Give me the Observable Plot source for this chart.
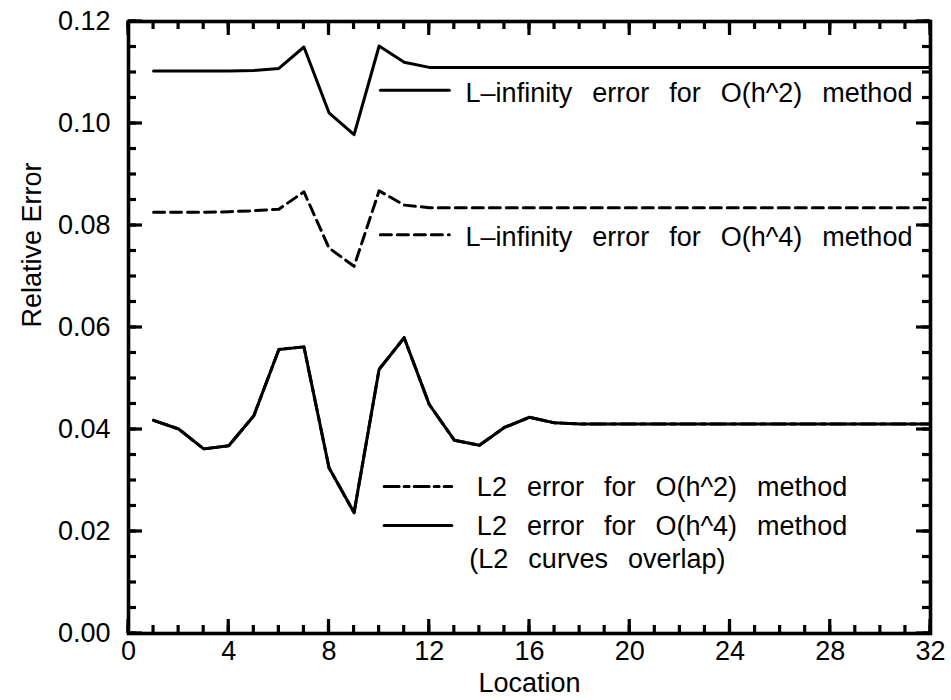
<!DOCTYPE html>
<html>
<head>
<meta charset="utf-8">
<script src="https://cdn.jsdelivr.net/npm/d3@7"></script>
<script src="https://cdn.jsdelivr.net/npm/@observablehq/plot@0.6"></script>
<style>
  html, body { margin: 0; padding: 0; background: #fff; }
  #chart svg { display: block; font-family: "Liberation Sans", Arial, sans-serif; }
</style>
</head>
<body>
<div id="chart"></div>
<script>
// ---- data ----
const location_ = [1,2,3,4,5,6,7,8,9,10,11,12,13,14,15,16,17,18,19,20,21,22,23,24,25,26,27,28,29,30,31,32];
const linfH2 = [0.1103,0.1103,0.1103,0.1103,0.1104,0.1108,0.1150,0.1021,0.0978,0.1152,0.1120,0.1110,
                0.1110,0.1110,0.1110,0.1110,0.1110,0.1110,0.1110,0.1110,0.1110,0.1110,0.1110,0.1110,
                0.1110,0.1110,0.1110,0.1110,0.1110,0.1110,0.1110,0.1110];
const linfH4 = [0.0826,0.0826,0.0826,0.0827,0.0829,0.0832,0.0866,0.0756,0.0720,0.0868,0.0840,0.0835,
                0.0835,0.0835,0.0835,0.0835,0.0835,0.0835,0.0835,0.0835,0.0835,0.0835,0.0835,0.0835,
                0.0835,0.0835,0.0835,0.0835,0.0835,0.0835,0.0835,0.0835];
const l2H2 = [0.0418,0.0401,0.0362,0.0368,0.0427,0.0557,0.0562,0.0325,0.0237,0.0518,0.0580,0.0449,
              0.0379,0.0369,0.0404,0.0424,0.0413,0.0411,0.0411,0.0411,0.0411,0.0411,0.0411,0.0411,
              0.0411,0.0411,0.0411,0.0411,0.0411,0.0411,0.0411,0.0411];
const l2H4 = [0.0418,0.0401,0.0362,0.0368,0.0427,0.0557,0.0562,0.0325,0.0237,0.0518,0.0580,0.0449,
              0.0379,0.0369,0.0404,0.0424,0.0413,0.0411,0.0411,0.0411,0.0411,0.0411,0.0411,0.0411,
              0.0411,0.0411,0.0411,0.0411,0.0411,0.0411,0.0411,0.0411];

const xMajorTicks = [0,4,8,12,16,20,24,28,32];
const xMinorTicks = d3.range(0, 33, 1);
const yMajorTicks = [0,0.02,0.04,0.06,0.08,0.10,0.12];
const yMinorTicks = d3.range(0, 24.5, 1).map(i => i * 0.005);
const yTickLabels = ["0.00","0.02","0.04","0.06","0.08","0.10","0.12"];

const xTitle = "Location";
const yTitle = "Relative Error";

const legendLabels = [
  "L\u2013infinity error for O(h^2) method",
  "L\u2013infinity error for O(h^4) method",
  "L2 error for O(h^2) method",
  "L2 error for O(h^4) method",
  "(L2 curves overlap)"
];
const legendValues = [0.1065, 0.0782, 0.0288, 0.0212, 0.0146];

(function () {
  const mk = (ys) => location_.map((x, i) => ({x, y: ys[i]}));
  const dLinf2 = mk(linfH2), dLinf4 = mk(linfH4), dL2a = mk(l2H2), dL2b = mk(l2H4);

  const legendRows = legendLabels.map((t, i) => ({t, y: legendValues[i]}));
  const legLine = (i, x1, x2) => [{x: x1, y: legendValues[i]}, {x: x2, y: legendValues[i]}];

  const W = 951, H = 700, ML = 128, MR = 21, MT = 21, MB = 67;
  const xDom = [0, 32], yDom = [0, 0.12];
  const fs = 27;
  const sw = 3;
  const minorLen = 8, majorLen = 14, tickW = 3.2;
  const dashed = "11,6";
  const dashDot = "15,5,5,5";

  const chart = Plot.plot({
    width: W,
    height: H,
    marginLeft: ML,
    marginRight: MR,
    marginTop: MT,
    marginBottom: MB,
    style: {fontFamily: "Liberation Sans, Arial, sans-serif", fontSize: fs + "px", background: "white", color: "black"},
    x: {domain: xDom},
    y: {domain: yDom},
    marks: [
      Plot.frame({stroke: "black", fill: "none", strokeWidth: 3.6}),
      Plot.axisX(xMajorTicks, {anchor: "bottom", tickSize: 0, tickPadding: 7, fontSize: fs, label: null}),
      Plot.axisY(yMajorTicks, {anchor: "left", tickSize: 0, tickPadding: 18, fontSize: fs, label: null,
        tickFormat: (d) => yTickLabels[yMajorTicks.indexOf(d)]}),
      Plot.line(dLinf2, {x: "x", y: "y", stroke: "black", strokeWidth: sw}),
      Plot.line(dLinf4, {x: "x", y: "y", stroke: "black", strokeWidth: sw, strokeDasharray: dashed}),
      Plot.line(dL2a, {x: "x", y: "y", stroke: "black", strokeWidth: sw, strokeDasharray: dashDot}),
      Plot.line(dL2b, {x: "x", y: "y", stroke: "black", strokeWidth: sw}),
      Plot.line(legLine(0, 10.05, 12.8), {x: "x", y: "y", stroke: "black", strokeWidth: sw}),
      Plot.line(legLine(1, 10.05, 12.8), {x: "x", y: "y", stroke: "black", strokeWidth: sw, strokeDasharray: dashed}),
      Plot.line(legLine(2, 10.2, 12.9), {x: "x", y: "y", stroke: "black", strokeWidth: sw, strokeDasharray: dashDot}),
      Plot.line(legLine(3, 10.2, 12.9), {x: "x", y: "y", stroke: "black", strokeWidth: sw}),
      Plot.text(legendRows.slice(0, 2), {x: 13.45, y: "y", dy: 3, text: "t", textAnchor: "start", fontSize: fs, fill: "black"}),
      Plot.text(legendRows.slice(2, 4), {x: 13.9, y: "y", dy: 1, text: "t", textAnchor: "start", fontSize: fs, fill: "black"}),
      Plot.text(legendRows.slice(4, 5), {x: 13.6, y: "y", text: "t", textAnchor: "start", fontSize: fs, fill: "black"}),
      Plot.text([xTitle], {frameAnchor: "bottom", dy: 58, text: d => d, fontSize: fs, fill: "black"}),
      Plot.text([yTitle], {frameAnchor: "left", dx: -96, rotate: -90, text: d => d, fontSize: fs, fill: "black"})
    ]
  });

  // inward ticks on all four sides, positioned with the plot's own scales
  const sx = chart.scale("x"), sy = chart.scale("y");
  const fLeft = sx.apply(xDom[0]), fRight = sx.apply(xDom[1]);
  const fBottom = sy.apply(yDom[0]), fTop = sy.apply(yDom[1]);
  const g = d3.select(chart).append("g")
    .attr("stroke", "black").attr("stroke-width", tickW).attr("stroke-linecap", "butt");
  function xTicks(ticks, len) {
    for (const t of ticks) {
      const px = sx.apply(t);
      g.append("line").attr("x1", px).attr("x2", px).attr("y1", fBottom).attr("y2", fBottom - len);
      g.append("line").attr("x1", px).attr("x2", px).attr("y1", fTop).attr("y2", fTop + len);
    }
  }
  function yTicks(ticks, len) {
    for (const t of ticks) {
      const py = sy.apply(t);
      g.append("line").attr("y1", py).attr("y2", py).attr("x1", fLeft).attr("x2", fLeft + len);
      g.append("line").attr("y1", py).attr("y2", py).attr("x1", fRight).attr("x2", fRight - len);
    }
  }
  xTicks(xMinorTicks, minorLen); xTicks(xMajorTicks, majorLen);
  yTicks(yMinorTicks, minorLen); yTicks(yMajorTicks, majorLen);

  d3.select(chart).selectAll("text")
    .filter(function () { return legendLabels.includes(this.textContent); })
    .style("word-spacing", "12.5px");
  document.getElementById("chart").appendChild(chart);
})();
</script>
</body>
</html>
